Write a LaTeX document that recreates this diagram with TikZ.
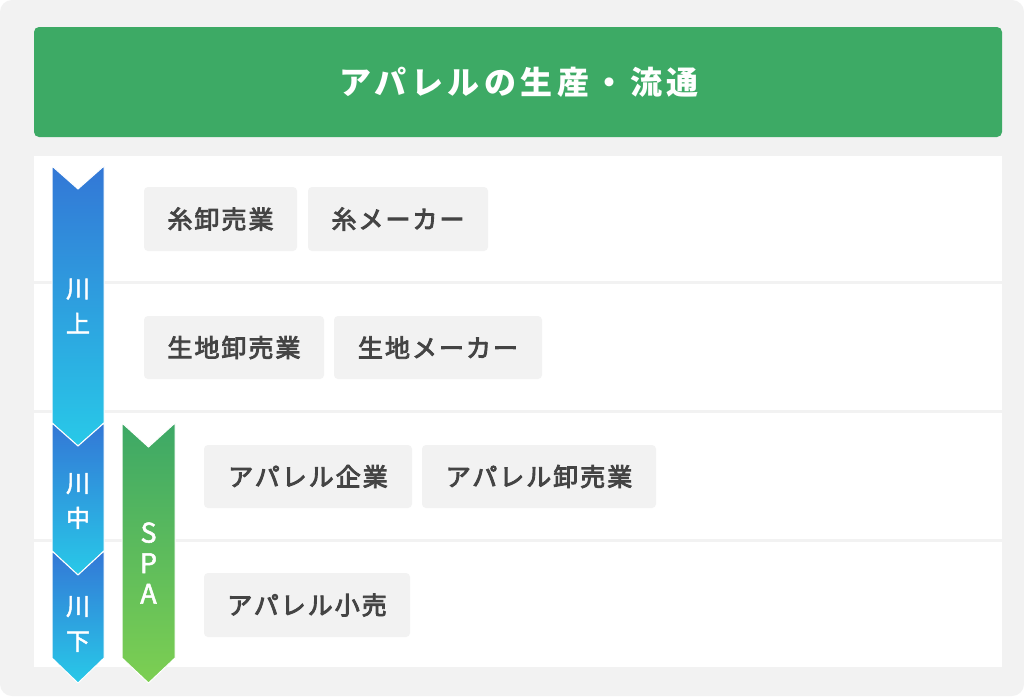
\documentclass[tikz,border=0pt]{standalone}
\usepackage{fontspec}
\setmainfont{Noto Sans CJK JP}
\newfontfamily\jpbox[LetterSpace=8,FakeBold=3.5]{Noto Sans CJK JP}
\newfontfamily\jptitle[LetterSpace=14]{Noto Sans CJK JP}
\newfontfamily\jpside[FakeBold=2]{Noto Sans CJK JP}
\definecolor{bggray}{HTML}{F2F2F2}
\definecolor{hdrgreen}{HTML}{3DAA65}
\definecolor{txtgray}{HTML}{444444}
\definecolor{bluetop}{HTML}{3377D6}
\definecolor{bluebot}{HTML}{28C9E8}
\definecolor{greentop}{HTML}{3DA866}
\definecolor{greenbot}{HTML}{7DCF52}
\tikzset{
  rowband/.style={fill=white, draw=none},
  itembox/.style={fill=bggray, draw=none, rounded corners=4pt, inner sep=0pt,
    text=txtgray, font=\jpbox\fontsize{25}{25}\selectfont},
  bluearrow/.style={top color=bluetop, bottom color=bluebot, draw=white, line width=1pt},
  greenarrow/.style={top color=greentop, bottom color=greenbot, draw=white, line width=1pt},
  sidelabel/.style={text=white, align=center, inner sep=0pt},
}
\begin{document}
\begin{tikzpicture}[x=1pt,y=-1pt]
\useasboundingbox (0,0) rectangle (1024,696);
\fill[white] (0,0) rectangle (1024,696);
\fill[bggray, rounded corners=12pt] (0,0) rectangle (1024,696);
% header
\fill[hdrgreen, rounded corners=5pt] (34,27) rectangle (1002,137);
\node[text=white, font=\jptitle\bfseries\fontsize{32}{32}\selectfont] (title) at (519,82) {アパレルの生産・流通};
% rows
\fill[rowband] (34,156) rectangle (1002,281);
\fill[rowband] (34,284) rectangle (1002,410);
\fill[rowband] (34,413) rectangle (1002,539);
\fill[rowband] (34,542) rectangle (1002,667);
% arrows
\shade[bluearrow] (52,166) -- (78,189) -- (104,166) -- (104,423) -- (78,446) -- (52,423) -- cycle;
\shade[bluearrow] (52,423) -- (78,446) -- (104,423) -- (104,551) -- (78,575) -- (52,551) -- cycle;
\shade[bluearrow] (52,551) -- (78,575) -- (104,551) -- (104,658) -- (78,683) -- (52,658) -- cycle;
\shade[greenarrow] (122,423) -- (148.5,447) -- (175,423) -- (175,658) -- (148.5,683) -- (122,658) -- cycle;
% side labels
\node[sidelabel, font=\jpside\fontsize{24}{35}\selectfont] (kawakami) at (78,306) {川\\上};
\node[sidelabel, font=\jpside\fontsize{24}{35}\selectfont] (kawanaka) at (78,501) {川\\中};
\node[sidelabel, font=\jpside\fontsize{24}{35}\selectfont] (kawashimo) at (78,624) {川\\下};
\node[sidelabel, font=\jpside\fontsize{27}{30.5}\selectfont] (spa) at (148.5,563) {S\\P\\A};
% item boxes
\node[itembox, minimum width=153pt, minimum height=64pt] (ito1) at (220.5,219) {糸卸売業};
\node[itembox, minimum width=180pt, minimum height=64pt] (ito2) at (398,219) {糸メーカー};
\node[itembox, minimum width=180pt, minimum height=63pt] (kiji1) at (234,347.5) {生地卸売業};
\node[itembox, minimum width=208pt, minimum height=63pt] (kiji2) at (438,347.5) {生地メーカー};
\node[itembox, minimum width=208pt, minimum height=63pt] (app1) at (308,476.5) {アパレル企業};
\node[itembox, minimum width=234pt, minimum height=63pt] (app2) at (539,476.5) {アパレル卸売業};
\node[itembox, minimum width=206pt, minimum height=64pt] (app3) at (307,605) {アパレル小売};
\end{tikzpicture}
\end{document}
